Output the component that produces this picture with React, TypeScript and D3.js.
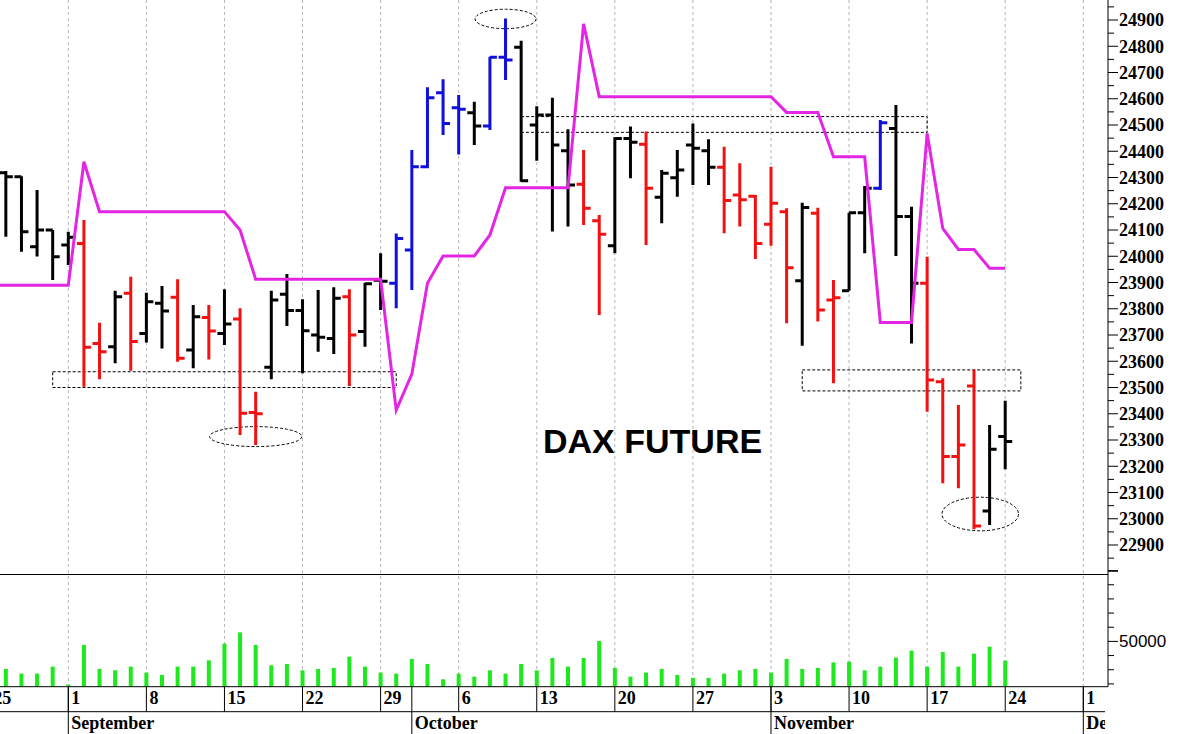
import React from "react";
import * as d3 from "d3";

// ---------- DATA ----------
const DATES = [
  "2025-08-26","2025-08-27","2025-08-28","2025-08-29",
  "2025-09-01","2025-09-02","2025-09-03","2025-09-04","2025-09-05",
  "2025-09-08","2025-09-09","2025-09-10","2025-09-11","2025-09-12",
  "2025-09-15","2025-09-16","2025-09-17","2025-09-18","2025-09-19",
  "2025-09-22","2025-09-23","2025-09-24","2025-09-25","2025-09-26",
  "2025-09-29","2025-09-30","2025-10-01","2025-10-02","2025-10-03",
  "2025-10-06","2025-10-07","2025-10-08","2025-10-09","2025-10-10",
  "2025-10-13","2025-10-14","2025-10-15","2025-10-16","2025-10-17",
  "2025-10-20","2025-10-21","2025-10-22","2025-10-23","2025-10-24",
  "2025-10-27","2025-10-28","2025-10-29","2025-10-30","2025-10-31",
  "2025-11-03","2025-11-04","2025-11-05","2025-11-06","2025-11-07",
  "2025-11-10","2025-11-11","2025-11-12","2025-11-13","2025-11-14",
  "2025-11-17","2025-11-18","2025-11-19","2025-11-20","2025-11-21",
  "2025-11-24",
];
const OPEN = [
  24318, 24303, 24036, 24100,
  24043, 24049, 23668, 23655, 23859,
  23706, 23821, 23844, 23643, 23767,
  23706, 23761, 23405, 23577, 23855,
  23793, 23700, 23687, 23846, 23713,
  23909, 23897, 24024, 24341, 24623,
  24566, 24547, 24496, 24758, 24796,
  24500, 24538, 24402, 24274, 24135,
  24040, 24449, 24427, 24225, 24299,
  24424, 24402, 24339, 24233, 24229,
  24122, 24170, 23907, 24164, 23833,
  23869, 24166, 24259, 24487, 24151,
  23897, 23522, 23237, 23506, 23030,
  23313,
];
const HIGH = [
  24325, 24305, 24252, 24100,
  24093, 24138, 23747, 23869, 23922,
  23861, 23887, 23912, 23814, 23814,
  23874, 23802, 23484, 23869, 23932,
  23836, 23871, 23882, 23874, 23899,
  24011, 24087, 24405, 24644, 24674,
  24614, 24589, 24760, 24906, 24821,
  24571, 24604, 24484, 24405, 24157,
  24453, 24494, 24475, 24329, 24405,
  24506, 24446, 24417, 24354, 24233,
  24341, 24183, 24204, 24185, 23910,
  24166, 24268, 24519, 24576, 24189,
  23998, 23535, 23433, 23569, 23357,
  23450,
];
const LOW = [
  24074, 24017, 23999, 23910,
  23967, 23503, 23531, 23592, 23564,
  23671, 23649, 23598, 23573, 23607,
  23662, 23319, 23281, 23531, 23734,
  23554, 23636, 23628, 23506, 23655,
  23795, 23802, 23871, 24335, 24462,
  24388, 24424, 24481, 24671, 24284,
  24364, 24094, 24113, 24119, 23776,
  24011, 24297, 24043, 24126, 24227,
  24271, 24271, 24088, 24113, 23990,
  24040, 23745, 23659, 23751, 23516,
  23869, 24011, 24252, 24001, 23668,
  23408, 23135, 23116, 22960, 22976,
  23189,
];
const CLOSE = [
  24303, 24093, 24100, 23998,
  24072, 23653, 23636, 23846, 23675,
  23827, 23791, 23611, 23770, 23715,
  23742, 23402, 23400, 23833, 23793,
  23716, 23691, 23840, 23700, 23895,
  23905, 24068, 24341, 24604, 24506,
  24560, 24496, 24758, 24748, 24288,
  24538, 24424, 24271, 24183, 24084,
  24449, 24434, 24259, 24316, 24329,
  24411, 24339, 24212, 24215, 24049,
  24202, 23956, 24186, 23795, 23842,
  24166, 24259, 24509, 24151, 23897,
  23529, 23237, 23281, 22972, 23265,
  23294,
];
// bar colour state: n = neutral (black), d = down (red), u = up (blue)
const STATE = [
  "n","n","n","n",
  "n","d","d","n","d",
  "n","n","d","n","d",
  "n","d","d","n","n",
  "n","n","n","d","n",
  "n","u","u","u","u",
  "u","n","u","u","n",
  "n","n","n","d","d",
  "n","n","d","n","n",
  "n","n","d","d","d",
  "d","d","n","d","d",
  "n","n","u","n","n",
  "d","d","d","d","n",
  "n",
];
// magenta stepped stop line
const STOP = [
  23890, 23890, 23890, 23890,
  23890, 24360, 24170, 24170, 24170,
  24170, 24170, 24170, 24170, 24170,
  24170, 24100, 23912, 23912, 23912,
  23912, 23912, 23912, 23912, 23912,
  23912, 23414, 23551, 23897, 24001,
  24001, 24001, 24081, 24261, 24261,
  24261, 24261, 24261, 24885, 24608,
  24608, 24608, 24608, 24608, 24608,
  24608, 24608, 24608, 24608, 24608,
  24608, 24548, 24548, 24548, 24379,
  24379, 24379, 23748, 23748, 23748,
  24468, 24106, 24026, 24026, 23954,
  23954,
];
const VOLUME = [
  30560, 27250, 27250, 32180,
  19510, 47460, 30560, 29580, 32180,
  27960, 26340, 32180, 32180, 36620,
  48380, 56340, 47460, 33100, 34080,
  29580, 30560, 31270, 39230, 32180,
  27960, 27250, 37610, 34080, 23240,
  27250, 25140, 29580, 27250, 34080,
  29580, 38310, 32180, 38310, 50280,
  31270, 25140, 27960, 30560, 26340,
  24230, 24230, 27250, 29580, 30560,
  27960, 37610, 30560, 31270, 35210,
  35700, 29580, 32180, 38520, 43450,
  32180, 42540, 32180, 41340, 46270,
  36410,
];

const PRICE_LABELS = [22900, 23000, 23100, 23200, 23300, 23400, 23500, 23600, 23700, 23800,
  23900, 24000, 24100, 24200, 24300, 24400, 24500, 24600, 24700, 24800, 24900];
const VOLUME_LABELS = [50000];

const WEEK_DATES = ["2025-08-25","2025-09-01","2025-09-08","2025-09-15","2025-09-22","2025-09-29",
  "2025-10-06","2025-10-13","2025-10-20","2025-10-27","2025-11-03","2025-11-10","2025-11-17",
  "2025-11-24","2025-12-01"];
const WEEK_LABELS = ["25","1","8","15","22","29","6","13","20","27","3","10","17","24","1"];
const MONTH_DATES = ["2025-09-01","2025-10-01","2025-11-03","2025-12-01"];
const MONTH_LABELS = ["September","October","November","December"];

// dashed support / resistance zones
const ZONE_START = ["2025-08-29","2025-10-10","2025-11-05"];
const ZONE_END = ["2025-09-30","2025-11-17","2025-11-25"];
const ZONE_LOW = [23500, 24472, 23487];
const ZONE_HIGH = [23560, 24532, 23567];

// dashed ellipses
const ELLIPSE_DATE = ["2025-09-17","2025-10-09","2025-11-20"];
const ELLIPSE_DAY_SHIFT = [0, 0, 0.4];
const ELLIPSE_PRICE = [23313, 24904, 23018];
const ELLIPSE_HALF_DAYS = [2.95, 1.95, 2.45];
const ELLIPSE_HALF_POINTS = [38, 37, 64];

const TITLE = "DAX FUTURE";

// ---------- LAYOUT ----------
const W = 1179;
const H = 734;
const AXIS_X = 1108;
const PRICE_BOTTOM = 574.5;
const VOL_BOTTOM = 686.7;
const DATE_MID = 711.7;

const fmt = d3.timeFormat("%Y-%m-%d");
const calendar = d3.timeDay
  .range(new Date(2025, 7, 25), new Date(2025, 11, 6))
  .filter((d) => d.getDay() !== 0 && d.getDay() !== 6)
  .map(fmt);
const idx = (s: string) => calendar.indexOf(s);

const x = d3.scaleLinear()
  .domain([idx("2025-09-01"), idx("2025-12-01")])
  .range([68.3, 1083.3]);
const yP = d3.scaleLinear().domain([22900, 24900]).range([545, 20]);
const yV = d3.scaleLinear().domain([50000, 100000]).range([641.4, 570.6]);
const DAY = x(1) - x(0);

const COLORS: Record<string, string> = { n: "#000000", d: "#f21010", u: "#1010dc" };
const MAGENTA = "#e426e4";
const GREEN = "#1ee81e";
const TICK = 7;

export default function App() {
  const bars = DATES.map((d, i) => {
    const xi = x(idx(d));
    return {
      key: d,
      path: `M${xi},${yP(HIGH[i])}V${yP(LOW[i])}M${xi - TICK},${yP(OPEN[i])}H${xi}M${xi},${yP(CLOSE[i])}H${xi + TICK}`,
      color: COLORS[STATE[i]],
    };
  });

  const stopPts: [number, number][] = DATES.map((d, i) => [x(idx(d)), yP(STOP[i])]);
  stopPts.unshift([0, yP(STOP[0])]);
  const stopPath = d3.line()(stopPts) || "";

  const priceTicks = d3.range(22800, 25001, 50);
  const volTicks = d3.range(20000, 100001, 10000);

  return (
    <svg width={W} height={H} style={{ position: "absolute", left: 0, top: 0, background: "#fff" }}>
      <defs>
        <clipPath id="pc"><rect x={0} y={0} width={AXIS_X} height={PRICE_BOTTOM} /></clipPath>
        <clipPath id="vc"><rect x={0} y={PRICE_BOTTOM} width={AXIS_X} height={VOL_BOTTOM - PRICE_BOTTOM} /></clipPath>
        <clipPath id="dc"><rect x={0} y={VOL_BOTTOM} width={AXIS_X - 3} height={H - VOL_BOTTOM} /></clipPath>
      </defs>
      <rect x={0} y={0} width={W} height={H} fill="#fff" />

      {/* grid */}
      {WEEK_DATES.map((d) => (
        <line key={"g" + d} x1={x(idx(d))} x2={x(idx(d))} y1={0} y2={VOL_BOTTOM}
          stroke="#b4b4b4" strokeWidth={1} strokeDasharray="3,3" />
      ))}

      {/* price panel */}
      <g clipPath="url(#pc)">
        {ZONE_START.map((s, i) => (
          <rect key={"z" + i} x={x(idx(s))} y={yP(ZONE_HIGH[i])}
            width={x(idx(ZONE_END[i])) - x(idx(s))} height={yP(ZONE_LOW[i]) - yP(ZONE_HIGH[i])}
            fill="none" stroke="#000" strokeWidth={1} strokeDasharray="3,2" />
        ))}
        {ELLIPSE_DATE.map((d, i) => (
          <ellipse key={"e" + i} cx={x(idx(d) + ELLIPSE_DAY_SHIFT[i])} cy={yP(ELLIPSE_PRICE[i])}
            rx={ELLIPSE_HALF_DAYS[i] * DAY}
            ry={yP(ELLIPSE_PRICE[i] - ELLIPSE_HALF_POINTS[i]) - yP(ELLIPSE_PRICE[i])}
            fill="none" stroke="#000" strokeWidth={1} strokeDasharray="3,2" />
        ))}
        {bars.map((b) => (
          <path key={b.key} d={b.path} stroke={b.color} strokeWidth={3} fill="none" />
        ))}
        <path d={stopPath} stroke={MAGENTA} strokeWidth={3} fill="none" strokeLinejoin="miter" />
        <text x={543} y={453} fontFamily="'Liberation Sans', Arial, sans-serif" fontWeight="bold"
          fontSize={34} fill="#000">{TITLE}</text>
      </g>

      {/* volume panel */}
      <g clipPath="url(#vc)">
        {DATES.map((d, i) => (
          <rect key={"v" + d} x={x(idx(d)) - 2} y={yV(VOLUME[i])} width={4}
            height={VOL_BOTTOM - yV(VOLUME[i])} fill={GREEN} />
        ))}
      </g>

      {/* panel separators */}
      <line x1={0} x2={AXIS_X} y1={PRICE_BOTTOM} y2={PRICE_BOTTOM} stroke="#000" strokeWidth={1} />
      <line x1={0} x2={AXIS_X} y1={VOL_BOTTOM} y2={VOL_BOTTOM} stroke="#000" strokeWidth={1} />
      <line x1={0} x2={AXIS_X - 3} y1={DATE_MID} y2={DATE_MID} stroke="#000" strokeWidth={1} />

      {/* right axis */}
      <line x1={AXIS_X} x2={AXIS_X} y1={0} y2={VOL_BOTTOM} stroke="#000" strokeWidth={1} />
      {priceTicks.filter((p) => yP(p) >= 0 && yP(p) <= PRICE_BOTTOM).map((p) => (
        <line key={"pt" + p} x1={AXIS_X} x2={AXIS_X + (p % 100 === 0 ? 10 : 6)} y1={yP(p)} y2={yP(p)}
          stroke="#000" strokeWidth={1} />
      ))}
      {PRICE_LABELS.map((p) => (
        <text key={"pl" + p} x={AXIS_X + 11} y={yP(p)} dy="0.35em"
          fontFamily="'Liberation Serif', 'Times New Roman', serif" fontWeight="bold" fontSize={18} fill="#000">
          {p}
        </text>
      ))}
      {volTicks.filter((v) => yV(v) <= VOL_BOTTOM).map((v) => (
        <line key={"vt" + v} x1={AXIS_X} x2={AXIS_X + (v % 50000 === 0 ? 10 : 6)} y1={yV(v)} y2={yV(v)}
          stroke="#000" strokeWidth={1} />
      ))}
      {VOLUME_LABELS.map((v) => (
        <text key={"vl" + v} x={AXIS_X + 11} y={yV(v)} dy="0.35em"
          fontFamily="'Liberation Sans', Arial, sans-serif" fontSize={17} fill="#000">{v}</text>
      ))}

      {/* date axis */}
      <g clipPath="url(#dc)">
        {WEEK_DATES.map((d, i) => (
          <g key={"w" + d}>
            <line x1={x(idx(d))} x2={x(idx(d))} y1={VOL_BOTTOM} y2={DATE_MID} stroke="#000" strokeWidth={1} />
            <text x={x(idx(d)) + 3} y={704} fontFamily="'Liberation Serif', 'Times New Roman', serif"
              fontWeight="bold" fontSize={18} fill="#000">{WEEK_LABELS[i]}</text>
          </g>
        ))}
        {MONTH_DATES.map((d, i) => (
          <g key={"m" + d}>
            <line x1={x(idx(d))} x2={x(idx(d))} y1={VOL_BOTTOM} y2={H} stroke="#000" strokeWidth={1} />
            <text x={x(idx(d)) + 3} y={729} fontFamily="'Liberation Serif', 'Times New Roman', serif"
              fontWeight="bold" fontSize={18} fill="#000">{MONTH_LABELS[i]}</text>
          </g>
        ))}
      </g>
    </svg>
  );
}
